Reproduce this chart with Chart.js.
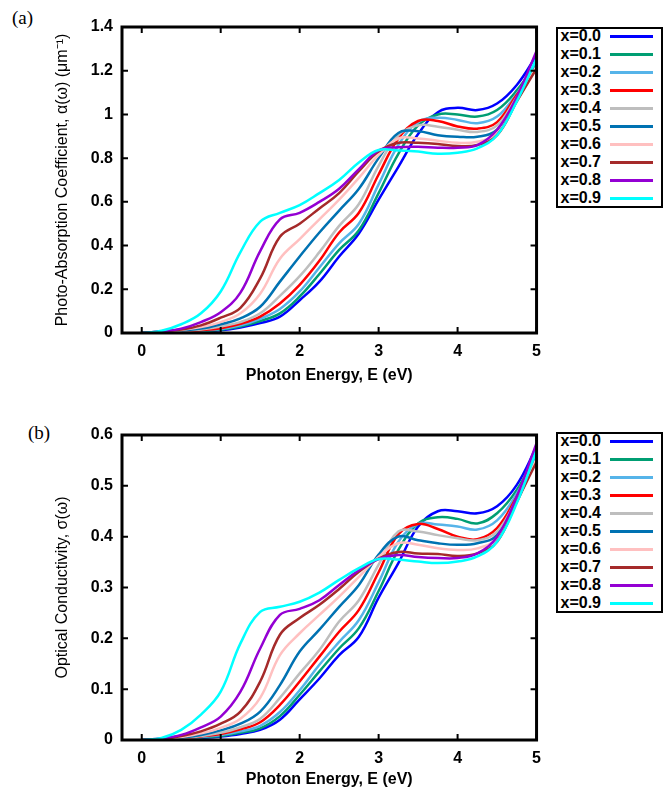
<!DOCTYPE html>
<html>
<head>
<meta charset="utf-8">
<script src="https://cdn.jsdelivr.net/npm/chart.js@4.4.0/dist/chart.umd.min.js"></script>
<style>
  body { margin:0; width:670px; height:794px; overflow:hidden; background:#fff; position:relative; font-family:'Liberation Sans', Arial, sans-serif; }
  .panel { position:absolute; left:0; }
  .tag { position:absolute; font-family:'Liberation Serif','DejaVu Serif',serif; font-size:19px; line-height:19px; }
  .legend { position:absolute; left:556px; width:107px; height:181px; border:2px solid #000; box-sizing:border-box; }
  .rows { margin-top:-2px; }
  .row { display:flex; align-items:center; height:18px; }
  .row span { width:43px; text-align:right; font-weight:bold; font-size:16px; line-height:18px; }
  .row i { display:block; margin-left:9px; width:43px; height:3px; }
</style>
</head>
<body>
<div class="tag" style="left:12px;top:8px">(a)</div>
<canvas id="chartA" class="panel" style="top:0" width="550" height="395"></canvas>
<div class="legend" id="legA" style="top:27px"></div>

<div class="tag" style="left:28px;top:423px">(b)</div>
<canvas id="chartB" class="panel" style="top:400px" width="550" height="394"></canvas>
<div class="legend" id="legB" style="top:432px"></div>

<script>
// photon energy grid (eV)
const energy = [0, 0.25, 0.5, 0.75, 1, 1.25, 1.5, 1.75, 2, 2.25, 2.5, 2.75, 3, 3.25, 3.5, 3.75, 4, 4.25, 4.5, 4.75, 5];
const seriesNames = ['x=0.0', 'x=0.1', 'x=0.2', 'x=0.3', 'x=0.4', 'x=0.5', 'x=0.6', 'x=0.7', 'x=0.8', 'x=0.9'];
const xTicks = [0, 1, 2, 3, 4, 5];
const alphaTicks = [0, 0.2, 0.4, 0.6, 0.8, 1, 1.2, 1.4];
const sigmaTicks = [0, 0.1, 0.2, 0.3, 0.4, 0.5, 0.6];

// (a) photo-absorption coefficient
const alpha00 = [0, 0.002, 0.005, 0.008, 0.012, 0.025, 0.045, 0.075, 0.15, 0.235, 0.35, 0.455, 0.61, 0.76, 0.91, 1.01, 1.03, 1.02, 1.05, 1.135, 1.27];
const alpha01 = [0, 0.002, 0.006, 0.009, 0.015, 0.03, 0.055, 0.09, 0.167, 0.27, 0.38, 0.47, 0.64, 0.82, 0.95, 1.0, 1.0, 0.99, 1.02, 1.11, 1.24];
const alpha02 = [0, 0.003, 0.007, 0.011, 0.018, 0.035, 0.065, 0.11, 0.19, 0.30, 0.41, 0.50, 0.68, 0.86, 0.965, 0.985, 0.975, 0.96, 0.99, 1.095, 1.23];
const alpha03 = [0, 0.003, 0.008, 0.013, 0.022, 0.042, 0.075, 0.135, 0.22, 0.33, 0.46, 0.55, 0.725, 0.89, 0.97, 0.97, 0.945, 0.935, 0.965, 1.09, 1.21];
const alpha04 = [0, 0.004, 0.01, 0.016, 0.03, 0.05, 0.09, 0.17, 0.26, 0.37, 0.49, 0.59, 0.765, 0.905, 0.95, 0.944, 0.93, 0.92, 0.95, 1.08, 1.22];
const alpha05 = [0, 0.005, 0.012, 0.02, 0.04, 0.067, 0.12, 0.235, 0.35, 0.46, 0.56, 0.66, 0.80, 0.915, 0.923, 0.905, 0.898, 0.898, 0.93, 1.065, 1.225];
const alpha06 = [0, 0.006, 0.014, 0.027, 0.05, 0.09, 0.18, 0.34, 0.43, 0.52, 0.61, 0.71, 0.815, 0.89, 0.89, 0.88, 0.87, 0.875, 0.913, 1.06, 1.22];
const alpha07 = [0, 0.007, 0.016, 0.035, 0.07, 0.115, 0.25, 0.44, 0.50, 0.57, 0.64, 0.74, 0.83, 0.87, 0.87, 0.865, 0.855, 0.86, 0.905, 1.06, 1.21];
const alpha08 = [0, 0.008, 0.02, 0.05, 0.095, 0.185, 0.375, 0.52, 0.55, 0.60, 0.66, 0.75, 0.835, 0.85, 0.852, 0.848, 0.848, 0.86, 0.93, 1.08, 1.29];
const alpha09 = [0, 0.01, 0.04, 0.09, 0.19, 0.37, 0.51, 0.55, 0.585, 0.64, 0.70, 0.78, 0.837, 0.835, 0.83, 0.82, 0.825, 0.845, 0.905, 1.06, 1.257];

// (b) optical conductivity
const sigma00 = [0, 0.001, 0.002, 0.004, 0.007, 0.012, 0.02, 0.04, 0.08, 0.121, 0.167, 0.203, 0.28, 0.348, 0.42, 0.45, 0.45, 0.446, 0.46, 0.502, 0.577];
const sigma01 = [0, 0.001, 0.002, 0.005, 0.008, 0.014, 0.023, 0.047, 0.089, 0.135, 0.18, 0.22, 0.293, 0.374, 0.426, 0.438, 0.435, 0.426, 0.446, 0.492, 0.564];
const sigma02 = [0, 0.001, 0.003, 0.006, 0.01, 0.017, 0.028, 0.055, 0.098, 0.148, 0.193, 0.236, 0.31, 0.39, 0.425, 0.424, 0.42, 0.414, 0.432, 0.485, 0.56];
const sigma03 = [0, 0.001, 0.003, 0.007, 0.012, 0.021, 0.035, 0.069, 0.115, 0.164, 0.213, 0.256, 0.33, 0.405, 0.425, 0.415, 0.40, 0.395, 0.417, 0.479, 0.55];
const sigma04 = [0, 0.001, 0.004, 0.008, 0.014, 0.025, 0.042, 0.083, 0.131, 0.177, 0.233, 0.275, 0.345, 0.41, 0.41, 0.403, 0.397, 0.393, 0.41, 0.475, 0.557];
const sigma05 = [0, 0.002, 0.005, 0.01, 0.019, 0.032, 0.056, 0.108, 0.174, 0.217, 0.262, 0.305, 0.365, 0.40, 0.393, 0.387, 0.384, 0.387, 0.403, 0.469, 0.56];
const sigma06 = [0, 0.002, 0.006, 0.013, 0.024, 0.042, 0.083, 0.167, 0.21, 0.246, 0.282, 0.321, 0.36, 0.387, 0.384, 0.377, 0.374, 0.377, 0.397, 0.469, 0.553];
const sigma07 = [0, 0.002, 0.008, 0.017, 0.032, 0.056, 0.115, 0.207, 0.24, 0.266, 0.297, 0.331, 0.357, 0.37, 0.367, 0.366, 0.362, 0.367, 0.39, 0.469, 0.547];
const sigma08 = [0, 0.003, 0.01, 0.025, 0.046, 0.095, 0.18, 0.246, 0.258, 0.275, 0.305, 0.334, 0.356, 0.364, 0.36, 0.358, 0.358, 0.367, 0.40, 0.479, 0.584];
const sigma09 = [0, 0.004, 0.02, 0.05, 0.095, 0.19, 0.252, 0.262, 0.272, 0.29, 0.315, 0.338, 0.356, 0.355, 0.351, 0.348, 0.351, 0.361, 0.39, 0.466, 0.57];

const alphaSeries = [alpha00, alpha01, alpha02, alpha03, alpha04, alpha05, alpha06, alpha07, alpha08, alpha09];
const sigmaSeries = [sigma00, sigma01, sigma02, sigma03, sigma04, sigma05, sigma06, sigma07, sigma08, sigma09];

const lineColors = ['#0000ff', '#009e73', '#56b4e9', '#ff0000', '#bebebe', '#0072b2', '#ffc0c0', '#a52a2a', '#9400d3', '#00ffff'];

const FONT = "'Liberation Sans', Arial, sans-serif";

// gnuplot style frame with inward ticks on all four sides
const frame = {
  id: 'frame',
  afterDatasetsDraw(chart) {
    const {ctx, chartArea: a, scales: {x, y}} = chart;
    ctx.save();
    ctx.strokeStyle = '#000';
    ctx.lineWidth = 2;
    ctx.beginPath();
    x.ticks.forEach(t => {
      const px = x.getPixelForValue(t.value);
      ctx.moveTo(px, a.bottom); ctx.lineTo(px, a.bottom - 6);
      ctx.moveTo(px, a.top); ctx.lineTo(px, a.top + 6);
    });
    y.ticks.forEach(t => {
      const py = y.getPixelForValue(t.value);
      ctx.moveTo(a.left, py); ctx.lineTo(a.left + 6, py);
      ctx.moveTo(a.right, py); ctx.lineTo(a.right - 6, py);
    });
    ctx.stroke();
    ctx.lineWidth = 3;
    ctx.strokeRect(a.left, a.top, a.right - a.left, a.bottom - a.top);
    ctx.restore();
  }
};

function makeChart(id, series, yTicks, yTitle, g) {
  const datasets = series.map((vals, i) => ({
    label: seriesNames[i],
    data: energy.map((e, k) => ({x: e, y: vals[k]})),
    borderColor: lineColors[i],
    borderWidth: 2.5,
    pointRadius: 0,
    fill: false,
    tension: 0.4,
    order: series.length - 1 - i
  }));

  return new Chart(document.getElementById(id), {
    type: 'line',
    data: {datasets},
    plugins: [frame],
    options: {
      responsive: false,
      animation: false,
      events: [],
      layout: {padding: {top: g.top, right: 11, left: 0, bottom: 0}},
      plugins: {legend: {display: false}, tooltip: {enabled: false}},
      scales: {
        x: {
          type: 'linear', min: -0.25, max: 5,
          afterBuildTicks: s => { s.ticks = xTicks.map(v => ({value: v})); },
          afterFit: s => { s.height = g.xHeight; },
          grid: {display: false, drawTicks: false},
          border: {display: false},
          ticks: {padding: g.tickPad, color: '#000', font: {family: FONT, size: 16, weight: 'bold'}, callback: v => String(v)},
          title: {display: true, text: 'Photon Energy, E (eV)', color: '#000',
                  font: {family: FONT, size: 16, weight: 'bold'}, padding: {top: 0, bottom: g.titlePad}}
        },
        y: {
          type: 'linear', min: 0, max: yTicks[yTicks.length - 1],
          afterBuildTicks: s => { s.ticks = yTicks.map(v => ({value: v})); },
          afterFit: s => { s.width = 122; },
          grid: {display: false, drawTicks: false},
          border: {display: false},
          ticks: {padding: 9, color: '#000', font: {family: FONT, size: 16, weight: 'bold'}, callback: v => String(v)},
          title: {display: true, text: yTitle, color: '#000',
                  font: {family: FONT, size: 16}, padding: {top: 53, bottom: 0}}
        }
      }
    }
  });
}

function makeLegend(id) {
  const box = document.getElementById(id);
  const rows = document.createElement('div');
  rows.className = 'rows';
  seriesNames.forEach((name, i) => {
    const row = document.createElement('div');
    row.className = 'row';
    const s = document.createElement('span');
    s.textContent = name;
    const l = document.createElement('i');
    l.style.background = lineColors[i];
    row.appendChild(s);
    row.appendChild(l);
    rows.appendChild(row);
  });
  box.appendChild(rows);
}

makeChart('chartA', alphaSeries, alphaTicks, 'Photo-Absorption Coefficient, α(ω) (μm⁻¹)',
  {top: 27, xHeight: 62, tickPad: 9, titlePad: 10});
makeChart('chartB', sigmaSeries, sigmaTicks, 'Optical Conductivity, σ(ω)',
  {top: 35, xHeight: 54, tickPad: 9, titlePad: 5});
makeLegend('legA');
makeLegend('legB');
</script>
</body>
</html>
